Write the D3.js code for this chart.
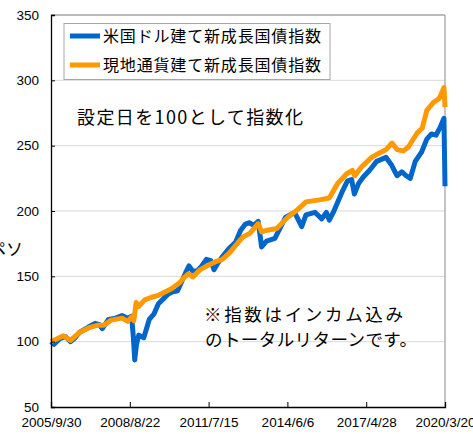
<!DOCTYPE html>
<html>
<head>
<meta charset="utf-8">
<script src="https://cdn.jsdelivr.net/npm/d3@7"></script>
<style>
  body { margin: 0; background: #fff; }
  svg { display: block; }
</style>
</head>
<body>
<div id="chart"></div>
<script>

// 米国ドル建て (blue)
var usdDates = ["2005-09-30","2005-11-10","2006-01-20","2006-04-10","2006-06-20","2006-08-20","2006-10-15",
  "2007-02-10","2007-05-15","2007-07-10","2007-08-20","2007-11-10","2008-02-15","2008-05-10","2008-07-25",
  "2008-09-15","2008-10-08","2008-10-27","2008-11-20","2008-12-20","2009-02-25","2009-05-10","2009-07-10",
  "2009-09-10","2010-01-10","2010-03-10","2010-05-25","2010-07-20","2010-09-20","2010-10-25","2010-12-15",
  "2011-02-10","2011-04-15","2011-06-15","2011-08-15","2011-09-25","2011-11-15","2012-01-15","2012-04-10",
  "2012-07-10","2012-09-15","2012-11-20","2013-01-15","2013-03-10","2013-05-10","2013-06-25","2013-08-30",
  "2013-12-20","2014-05-10","2014-09-10","2014-12-15","2015-02-10","2015-06-10","2015-09-10","2015-11-10",
  "2015-12-20","2016-02-20","2016-04-20","2016-06-20","2016-08-20","2016-10-15","2016-11-20","2017-01-15",
  "2017-03-20","2017-06-10","2017-09-15","2018-01-20","2018-04-05","2018-06-15","2018-08-20","2018-10-15",
  "2018-12-10","2019-02-15","2019-05-10","2019-07-20","2019-09-20","2019-11-20","2020-01-15","2020-03-06",
  "2020-03-20"];
var usdValues = [100,98,102,104,100,103,107,
  111,114,113,110,117,118,120,118,
  119.5,104,86,98,105,103,117,121,
  129,136,138,139,146,154,158,154,
  154,158,163,162,155,160,165,171,
  176,185,190,191,189,192,172.5,177,
  179,195,199,188,197,199,194,199,
  193,200,208,216,223,224,213,221,
  226,231,238,241,235,227,230,227,
  225,238,245,255,259,258,264,271,
  219];

// 現地通貨建て (orange)
var localDates = ["2005-09-30","2006-03-15","2006-06-20","2006-10-15","2007-03-10","2007-06-10","2007-09-10",
  "2007-12-15","2008-05-10","2008-07-25","2008-09-15","2008-10-15","2008-11-15","2008-12-20","2009-03-10",
  "2009-06-10","2009-09-10","2010-03-10","2010-06-20","2010-08-20","2010-10-20","2010-12-15","2011-03-15",
  "2011-07-10","2011-10-10","2012-01-15","2012-04-20","2012-08-15","2012-10-15","2013-01-20","2013-05-10",
  "2013-06-25","2013-09-10","2014-01-15","2014-06-15","2014-10-10","2015-02-10","2015-08-10","2015-12-20",
  "2016-04-10","2016-08-10","2016-10-25","2016-11-25","2017-03-01","2017-07-10","2017-10-10","2018-01-20",
  "2018-04-10","2018-06-15","2018-09-10","2018-11-15","2019-03-10","2019-05-20","2019-07-20","2019-10-15",
  "2020-01-01","2020-02-10","2020-03-06","2020-03-20"];
var localValues = [100,104.5,101,107,111,112.5,112.5,
  116.5,118,115.5,119,116,130,127,132,
  134,135.5,140.6,145,149,152,149.5,154.7,
  158.5,161,163,168,176,180,183,190.4,
  184,185.3,186.6,195.5,200.5,207,208.5,210,
  221,228.5,231,227,234,241,244,247,
  252,247,246,249,259.5,263.5,277,283,
  286,291,294.5,279.5];

var seriesNames = ["米国ドル建て新成長国債指数", "現地通貨建て新成長国債指数"];
var seriesColors = ["#0066cc", "#ff9900"];

var xTicks = ["2005-09-30","2008-08-22","2011-07-15","2014-06-06","2017-04-28","2020-03-20"];
var xTickLabels = ["2005/9/30","2008/8/22","2011/7/15","2014/6/6","2017/4/28","2020/3/20"];
var yTicks = [50,100,150,200,250,300,350];

var width = 473, height = 434;
var margin = {top: 15, right: 28, bottom: 27, left: 51};
var parse = d3.timeParse("%Y-%m-%d");
var latin = "'Liberation Sans', Arial, sans-serif";
var jp = "'Noto Sans CJK JP', sans-serif";

var svg = d3.select("#chart").append("svg")
  .attr("width", width)
  .attr("height", height);

var x = d3.scaleTime()
  .domain([parse(xTicks[0]), parse(xTicks[xTicks.length - 1])])
  .range([margin.left, width - margin.right]);

var y = d3.scaleLinear()
  .domain([50, 350])
  .range([height - margin.bottom, margin.top]);

// gridlines
svg.append("g")
  .selectAll("line")
  .data(yTicks.slice(1))
  .enter().append("line")
  .attr("x1", margin.left).attr("x2", width - margin.right)
  .attr("y1", function(d){ return y(d); })
  .attr("y2", function(d){ return y(d); })
  .attr("stroke", "#d9d9d9")
  .attr("stroke-width", 1);

// frame (top and right, gray)
svg.append("path")
  .attr("d", "M" + margin.left + "," + y(350) + "H" + x.range()[1] + "V" + y(50))
  .attr("fill", "none")
  .attr("stroke", "#898989")
  .attr("stroke-width", 1);

// series
var line = d3.line()
  .x(function(d){ return x(d[0]); })
  .y(function(d){ return y(d[1]); });

var series = [
  usdDates.map(function(d, i){ return [parse(d), usdValues[i]]; }),
  localDates.map(function(d, i){ return [parse(d), localValues[i]]; })
];

svg.append("g")
  .selectAll("path")
  .data(series)
  .enter().append("path")
  .attr("d", line)
  .attr("fill", "none")
  .attr("stroke", function(d, i){ return seriesColors[i]; })
  .attr("stroke-width", 5)
  .attr("stroke-linejoin", "round");

// y axis
var yAxis = d3.axisLeft(y)
  .tickValues(yTicks)
  .tickSize(-4)
  .tickPadding(12);

svg.append("g")
  .attr("transform", "translate(" + margin.left + ",0)")
  .call(yAxis)
  .call(function(g){
    g.select(".domain").attr("stroke", "#000").attr("stroke-width", 1.3);
    g.selectAll(".tick line").attr("stroke", "#000");
    g.selectAll(".tick text").attr("font-family", latin).attr("font-size", 13.5).attr("fill", "#000");
  });

// x axis
var xAxis = d3.axisBottom(x)
  .tickValues(xTicks.map(parse))
  .tickFormat(function(d, i){ return xTickLabels[i]; })
  .tickSize(-5)
  .tickPadding(10);

svg.append("g")
  .attr("transform", "translate(0," + y(50) + ")")
  .call(xAxis)
  .call(function(g){
    g.select(".domain").attr("stroke", "#000").attr("stroke-width", 1.3);
    g.selectAll(".tick line").attr("stroke", "#000");
    g.selectAll(".tick text").attr("font-family", latin).attr("font-size", 13.5).attr("fill", "#000");
  });

// legend
var legend = svg.append("g");
legend.append("rect")
  .attr("x", 64).attr("y", 23.5)
  .attr("width", 266).attr("height", 56)
  .attr("fill", "#fff")
  .attr("stroke", "#a6a6a6");

var item = legend.selectAll(".item")
  .data(seriesNames)
  .enter().append("g")
  .attr("class", "item")
  .attr("transform", function(d, i){ return "translate(0," + (36 + i * 29) + ")"; });

item.append("line")
  .attr("x1", 70).attr("x2", 100)
  .attr("stroke", function(d, i){ return seriesColors[i]; })
  .attr("stroke-width", 5);

item.append("text")
  .attr("x", 103)
  .attr("dy", "0.35em")
  .attr("font-family", jp)
  .attr("font-size", 16)
  .attr("textLength", 218)
  .attr("lengthAdjust", "spacing")
  .text(function(d){ return d; });

// notes
svg.append("text")
  .attr("x", 77).attr("y", 118)
  .attr("dy", "0.35em")
  .attr("font-family", jp)
  .attr("font-size", 18)
  .attr("textLength", 226)
  .attr("lengthAdjust", "spacing")
  .text("設定日を100として指数化");

svg.append("text")
  .attr("x", 204).attr("y", 315)
  .attr("dy", "0.35em")
  .attr("font-family", jp)
  .attr("font-size", 17.5)
  .attr("textLength", 199)
  .attr("lengthAdjust", "spacing")
  .text("※指数はインカム込み");

svg.append("text")
  .attr("x", 205).attr("y", 340)
  .attr("dy", "0.35em")
  .attr("font-family", jp)
  .attr("font-size", 17.5)
  .attr("textLength", 212)
  .attr("lengthAdjust", "spacing")
  .text("のトータルリターンです。");

// axis title, clipped at the left edge as in the original
svg.append("text")
  .attr("x", 23).attr("y", 249)
  .attr("dy", "0.35em")
  .attr("text-anchor", "end")
  .attr("font-family", jp)
  .attr("font-size", 17)
  .text("ペソ");

</script>
</body>
</html>
